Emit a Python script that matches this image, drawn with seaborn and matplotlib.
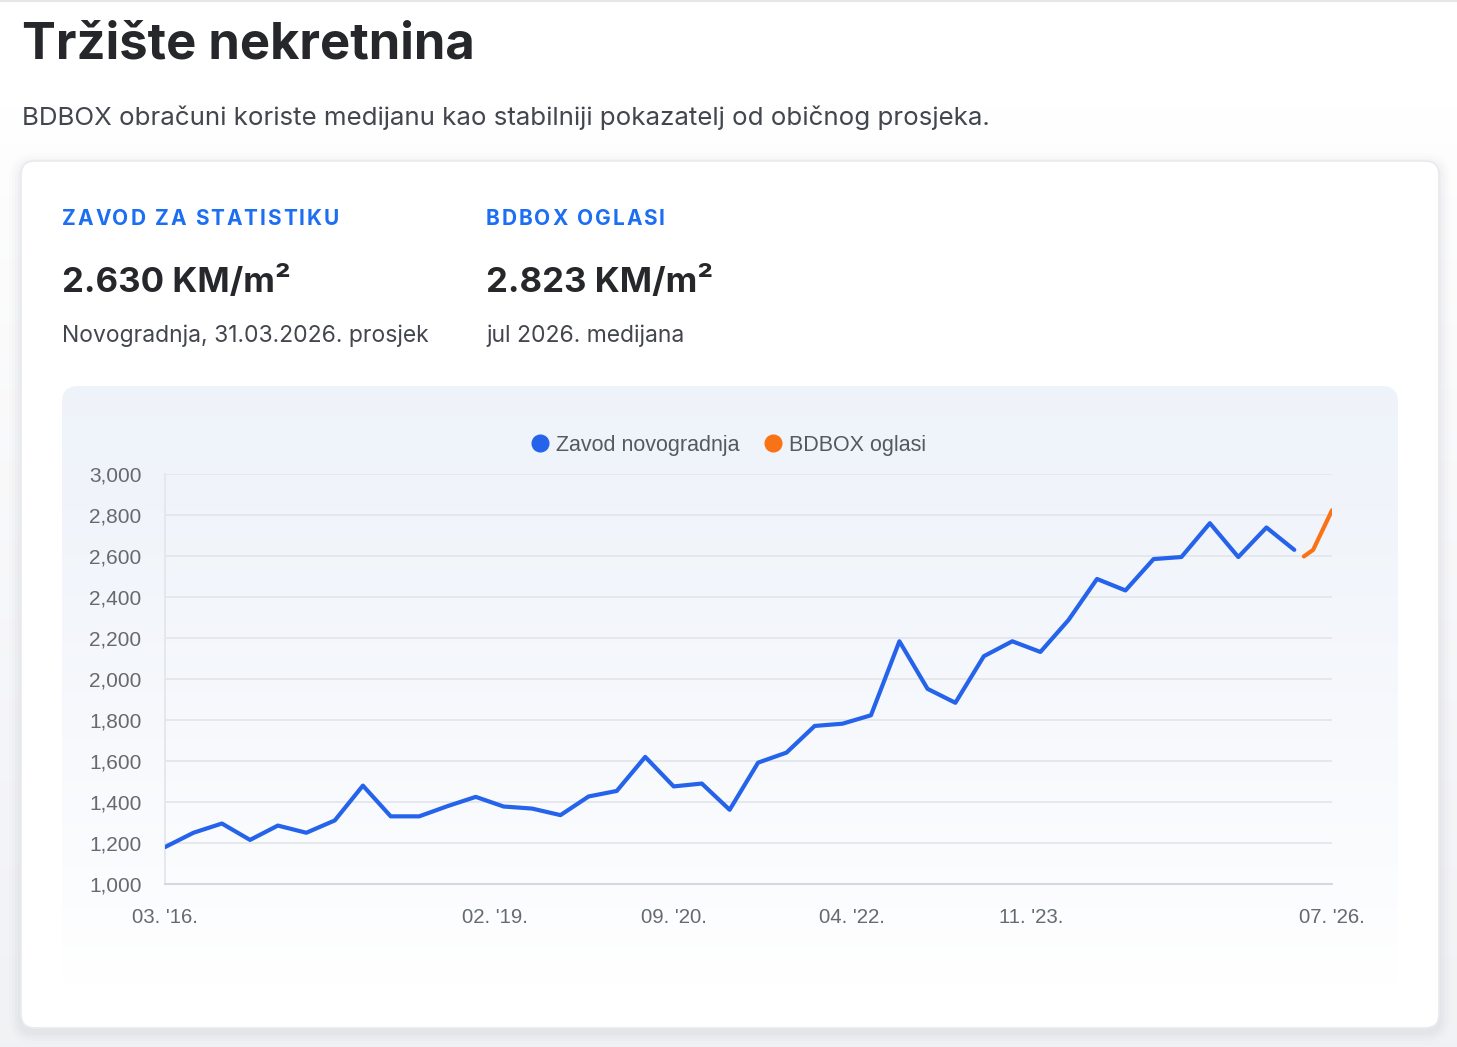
import numpy as np
import pandas as pd
import matplotlib
matplotlib.use("Agg")
import matplotlib.pyplot as plt
import matplotlib.dates as mdates
from matplotlib.patches import FancyBboxPatch
from matplotlib.lines import Line2D
import seaborn as sns

# quarterly Zavod values, Mar 2016 .. Mar 2026
zavod_dates = pd.date_range("2016-03-01", periods=41, freq="3MS")
zavod_values = [1180, 1250, 1295, 1215, 1285, 1250, 1310, 1480, 1330, 1330,
                1380, 1425, 1378, 1368, 1336, 1427, 1454, 1620, 1476, 1490,
                1362, 1592, 1641, 1771, 1782, 1823, 2184, 1952, 1884, 2111,
                2184, 2132, 2288, 2488, 2432, 2585, 2595, 2760, 2595, 2739,
                2630]

# BDBOX oglasi (monthly medians)
bdbox_dates = pd.to_datetime(["2026-04-01", "2026-05-01", "2026-07-01"])
bdbox_values = [2598, 2630, 2823]

tick_dates = pd.to_datetime(["2016-03-01", "2019-02-01", "2020-09-01",
                             "2022-04-01", "2023-11-01", "2026-07-01"])
y_ticks = list(range(1000, 3001, 200))

BLUE = "#2563eb"
ORANGE = "#f97316"
W, H = 1457, 1047
HEAD = ["Inter", "DejaVu Sans"]

sns.set_theme(style="white")
plt.rcParams['font.family'] = ['Liberation Sans', 'DejaVu Sans']

fig = plt.figure(figsize=(W / 100, H / 100), dpi=100)
fig.patch.set_facecolor("white")

# background layer in pixel coordinates
bg = fig.add_axes([0, 0, 1, 1])
bg.set_xlim(0, W)
bg.set_ylim(H, 0)
bg.axis("off")
bg.set_zorder(-1)

# page background: white on top, light grey towards the bottom
g = np.linspace(0, 1, 256).reshape(-1, 1)
page = np.array([1, 1, 1]) + (np.array([0.945, 0.949, 0.957]) - 1) * np.clip((g - 0.1) / 0.9, 0, 1) ** 0.8
bg.imshow(page.reshape(256, 1, 3), extent=[0, W, H, 0], aspect="auto", zorder=0)
bg.plot([0, W], [1, 1], color="#e4e6ea", lw=1.5, zorder=1)

# card with soft shadow
for i, a in enumerate([0.015, 0.025, 0.035, 0.045]):
    pad = 12 - i * 3
    bg.add_patch(FancyBboxPatch((21 - pad, 161 - pad + 4), 1418 + 2 * pad, 867 + 2 * pad,
                                boxstyle="round,pad=0,rounding_size=%d" % (14 + pad),
                                fc="#8a94a6", ec="none", alpha=a, zorder=1))
bg.add_patch(FancyBboxPatch((21, 161), 1418, 867, boxstyle="round,pad=0,rounding_size=14",
                            fc="white", ec="#e8eaee", lw=1.2, zorder=2))

# chart panel with vertical gradient
panel = FancyBboxPatch((62, 386), 1336, 600, boxstyle="round,pad=0,rounding_size=16",
                       fc="none", ec="none", zorder=3)
bg.add_patch(panel)
top_c = np.array([0.937, 0.953, 0.980])
img = top_c + (1 - top_c) * g ** 1.3
im = bg.imshow(img.reshape(256, 1, 3), extent=[62, 1398, 986, 386], aspect="auto",
               zorder=3, interpolation="bilinear")
im.set_clip_path(panel)

renderer = fig.canvas.get_renderer()


def spaced_text(x, y, s, spacing, **kw):
    # draw text with letter spacing, char by char
    for ch in s:
        if ch == " ":
            x += kw.get("fontsize", 14) * 0.36 + spacing
            continue
        t = bg.text(x, y, ch, **kw)
        x += t.get_window_extent(renderer).width + spacing


# header texts
bg.text(22, 45, "Tržište nekretnina", fontsize=36.5, fontweight="bold", family=HEAD,
        color="#26272b", va="center", ha="left", zorder=5)
bg.text(22, 118, "BDBOX obračuni koriste medijanu kao stabilniji pokazatelj od običnog prosjeka.",
        fontsize=18.65, family=HEAD, color="#43464d", va="center", ha="left", zorder=5)

for x0, lab, val, sub in [(62, "ZAVOD ZA STATISTIKU", "2.630 KM/m²", "Novogradnja, 31.03.2026. prosjek"),
                          (486, "BDBOX OGLASI", "2.823 KM/m²", "jul 2026. medijana")]:
    spaced_text(x0, 219, lab, 1.9, fontsize=15, fontweight="bold", family=HEAD,
                color="#1c6ef2", va="center", ha="left", zorder=5)
    bg.text(x0, 283, val, fontsize=25, fontweight="bold", family=HEAD, color="#26272b",
            va="center", ha="left", zorder=5)
    bg.text(x0, 336, sub, fontsize=16.5, family=HEAD, color="#43464d",
            va="center", ha="left", zorder=5)

# chart axes
ax = fig.add_axes([165 / W, 1 - 884 / H, (1332 - 165) / W, (884 - 474) / H])
ax.patch.set_alpha(0)

sns.lineplot(x=zavod_dates, y=zavod_values, ax=ax, color=BLUE, lw=3.0, zorder=4)
sns.lineplot(x=bdbox_dates, y=bdbox_values, ax=ax, color=ORANGE, lw=3.0, zorder=4)

ax.set_xlim(pd.Timestamp("2016-03-01"), pd.Timestamp("2026-07-01"))
ax.set_ylim(1000, 3000)
ax.set_yticks(y_ticks)
ax.set_yticklabels([f"{v:,}" for v in y_ticks])
ax.set_xticks(tick_dates)
ax.xaxis.set_major_formatter(mdates.DateFormatter("%m. '%y."))

ax.grid(axis="y", color="#e3e6eb", lw=1.3)
ax.grid(axis="x", visible=False)
for s in ["top", "right"]:
    ax.spines[s].set_visible(False)
ax.spines["left"].set_color("#e3e6eb")
ax.spines["left"].set_linewidth(1.3)
ax.spines["bottom"].set_color("#d5d8de")
ax.spines["bottom"].set_linewidth(1.5)

ax.tick_params(axis="y", length=14, width=1.3, color="#e3e6eb", pad=3,
               labelsize=15, labelcolor="#666a70")
ax.tick_params(axis="x", length=0, pad=17, labelsize=14.7, labelcolor="#666a70")
ax.set_xlabel("")
ax.set_ylabel("")

handles = [Line2D([], [], ls="none", marker="o", ms=12, mfc=BLUE, mec=BLUE),
           Line2D([], [], ls="none", marker="o", ms=12, mfc=ORANGE, mec=ORANGE)]
leg = fig.legend(handles, ["Zavod novogradnja", "BDBOX oglasi"], loc="center",
                 bbox_to_anchor=(728 / W, 1 - 445 / H), ncol=2, frameon=False,
                 handletextpad=0.3, columnspacing=1.1, handlelength=0.9,
                 prop={"size": 15.5})
for t in leg.get_texts():
    t.set_color("#555960")

fig.savefig("out.png", dpi=100, facecolor=fig.get_facecolor())
